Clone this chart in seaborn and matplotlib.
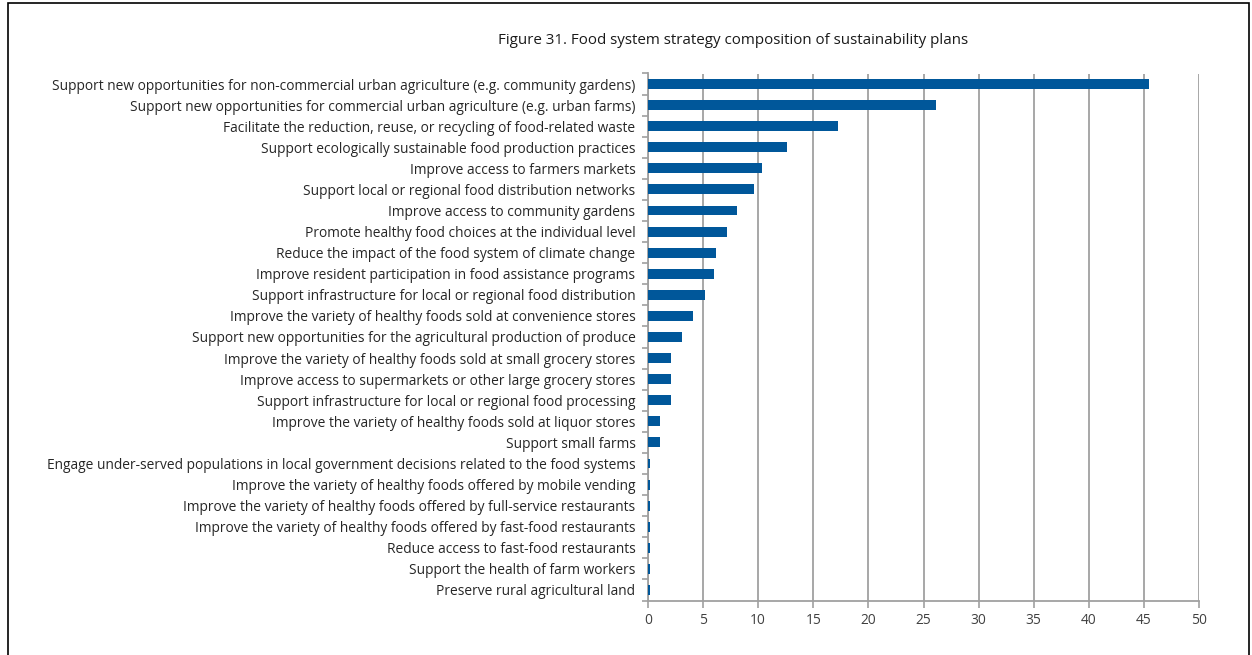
import matplotlib
matplotlib.use("Agg")
import matplotlib.pyplot as plt
import seaborn as sns
import pandas as pd
from matplotlib.patches import Rectangle
from matplotlib.ticker import FixedLocator

categories = [
    "Support new opportunities for non-commercial urban agriculture (e.g. community gardens)",
    "Support new opportunities for commercial urban agriculture (e.g. urban farms)",
    "Facilitate the reduction, reuse, or recycling of food-related waste",
    "Support ecologically sustainable food production practices",
    "Improve access to farmers markets",
    "Support local or regional food distribution networks",
    "Improve access to community gardens",
    "Promote healthy food choices at the individual level",
    "Reduce the impact of the food system of climate change",
    "Improve resident participation in food assistance programs",
    "Support infrastructure for local or regional food distribution",
    "Improve the variety of healthy foods sold at convenience stores",
    "Support new opportunities for the agricultural production of produce",
    "Improve the variety of healthy foods sold at small grocery stores",
    "Improve access to supermarkets or other large grocery stores",
    "Support infrastructure for local or regional food processing",
    "Improve the variety of healthy foods sold at liquor stores",
    "Support small farms",
    "Engage under-served populations in local government decisions related to the food systems",
    "Improve the variety of healthy foods offered by mobile vending",
    "Improve the variety of healthy foods offered by full-service restaurants",
    "Improve the variety of healthy foods offered by fast-food restaurants",
    "Reduce access to fast-food restaurants",
    "Support the health of farm workers",
    "Preserve rural agricultural land",
]
values = [45.5, 26.1, 17.2, 12.6, 10.3, 9.6, 8.1, 7.2, 6.2, 6.0, 5.2, 4.1, 3.1,
          2.1, 2.1, 2.1, 1.1, 1.1, 0.15, 0.15, 0.15, 0.15, 0.15, 0.15, 0.15]
x_ticks = [0, 5, 10, 15, 20, 25, 30, 35, 40, 45, 50]
title = "Figure 31. Food system strategy composition of sustainability plans"

df = pd.DataFrame({"category": categories, "value": values})

sns.set_style("white")
plt.rcParams["font.family"] = ["Open Sans", "DejaVu Sans"]

fig = plt.figure(figsize=(12.52, 6.55), dpi=100)
ax = fig.add_axes([648 / 1252, 1 - 600.5 / 655, (1199 - 648) / 1252, (600.5 - 73.5) / 655])

sns.barplot(data=df, y="category", x="value", orient="h", color="#00579A",
            saturation=1, width=0.47, linewidth=0, ax=ax)
for p in ax.patches:
    p.set_zorder(5)

ax.set_xlim(0, 50)
ax.set_ylim(len(categories) - 0.5, -0.5)
ax.set_xticks(x_ticks)
ax.set_xticklabels([str(t) for t in x_ticks])
ax.set_axisbelow(True)
ax.grid(axis="x", color="#a0a0a0", linewidth=1.3)
ax.grid(axis="y", visible=False)
ax.set_xlabel("")
ax.set_ylabel("")

ax.yaxis.set_minor_locator(FixedLocator([i - 0.5 for i in range(len(categories) + 1)]))
ax.tick_params(axis="y", which="major", length=0, pad=9, labelsize=9.95, labelcolor="#262626")
ax.tick_params(axis="y", which="minor", length=4, width=1.2, color="#a0a0a0", left=True)
ax.tick_params(axis="x", which="major", length=5, width=1.2, color="#a0a0a0", bottom=True,
               labelsize=9.9, labelcolor="#404040", pad=4)

for s in ["top", "right"]:
    ax.spines[s].set_visible(False)
for s in ["left", "bottom"]:
    ax.spines[s].set_color("#a0a0a0")
    ax.spines[s].set_linewidth(1.3)
    ax.spines[s].set_zorder(1)

fig.text(733 / 1252, 1 - 40 / 655, title, ha="center", va="center", fontsize=10.9, color="#1a1a1a")

fig.patches.append(Rectangle((8 / 1252, -0.05), (1249 - 8) / 1252, 1.05 - 3 / 655,
                             transform=fig.transFigure, fill=False, edgecolor="black",
                             linewidth=1.2))

fig.savefig("out.png", dpi=100)
